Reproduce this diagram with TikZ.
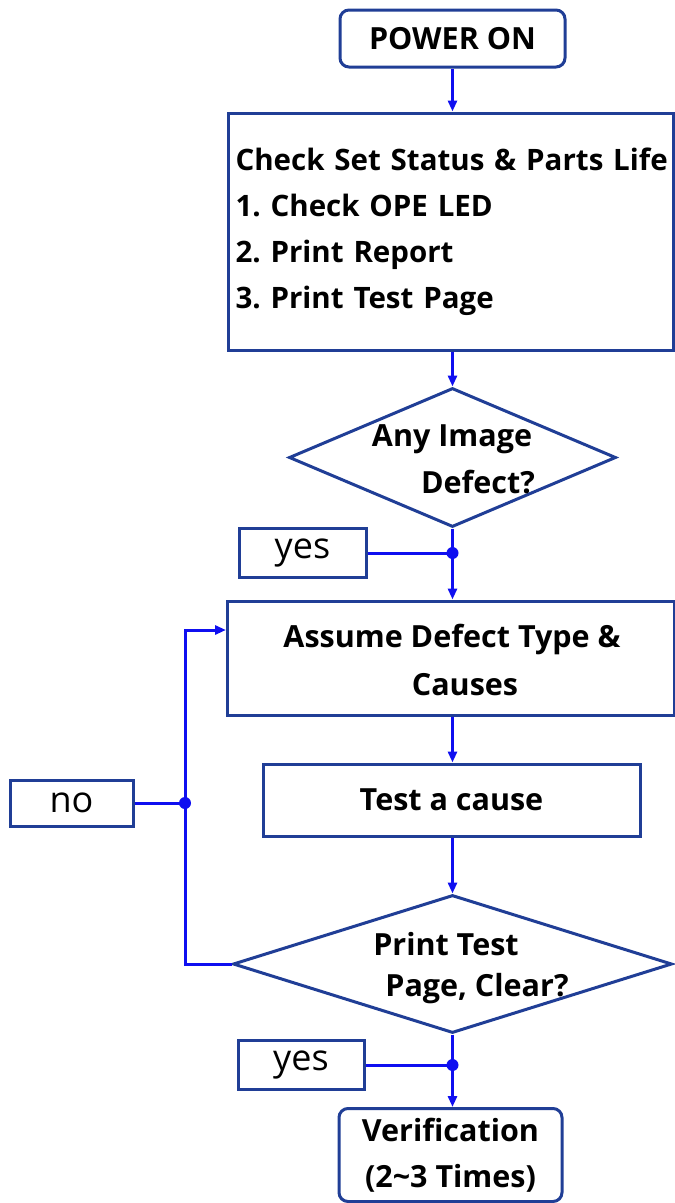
\documentclass[tikz,border=0pt]{standalone}
\usepackage{fontspec}
\setmainfont{Open Sans}
\frenchspacing
\usetikzlibrary{shapes.geometric,arrows.meta,calc}
\definecolor{bordercol}{RGB}{32,62,150}
\definecolor{linecol}{RGB}{15,15,240}
\tikzset{
  x=1pt,y=-1pt,
  boxst/.style={draw=bordercol, line width=3pt, fill=white, inner sep=0pt, font=\fontsize{30.5}{46}\selectfont\bfseries},
  roundst/.style={boxst, rounded corners=9pt},
  diast/.style={draw=bordercol, line width=3pt, diamond, inner sep=0pt},
  labst/.style={draw=bordercol, line width=3pt, inner sep=0pt, font=\fontsize{36}{40}\selectfont},
  txt/.style={inner sep=0pt, font=\fontsize{30.5}{46}\selectfont\bfseries},
  conn/.style={draw=linecol, line width=3pt},
  arr/.style={conn, -{Triangle[length=11pt,width=9pt]}},
  dot/.style={circle, fill=linecol, inner sep=0pt, minimum size=12pt},
}
\begin{document}
\begin{tikzpicture}
\useasboundingbox (0,0) rectangle (675,1203);
\node[roundst, minimum width=225pt, minimum height=57pt] (power) at (452.5,38.5) {POWER ON};
\node[boxst, minimum width=445pt, minimum height=237pt, align=left, text width=430pt, font=\fontsize{29.5}{46}\selectfont\bfseries] (check) at (450.5,231.5)
  {\raisebox{-4pt}{Check Set Status \& Parts Life}\\\raisebox{-4pt}{1. Check OPE LED}\\\raisebox{-4pt}{2. Print Report}\\\raisebox{-4pt}{3. Print Test Page}};
\node[diast, minimum width=327pt, minimum height=139pt] (d1) at (452.5,457.5) {};
\node[txt] (d1a) at (452,439) {Any Image};
\node[txt] (d1b) at (478,482) {Defect?};
\node[labst, minimum width=127pt, minimum height=49pt] (yes1) at (302.5,553) {yes};
\node[boxst, minimum width=447pt, minimum height=114pt, align=center] (a) at (450.5,658) {};
\node[txt] (a1) at (452,639) {Assume Defect Type \&};
\node[txt] (a2) at (465,685) {Causes};
\node[boxst, minimum width=377pt, minimum height=72pt] (t) at (451.5,800) {Test a cause};
\node[diast, minimum width=439pt, minimum height=138pt] (d2) at (452.5,964) {};
\node[txt] (d2a) at (446,944) {Print Test};
\node[txt] (d2b) at (477,989) {Page, Clear?};
\node[labst, minimum width=123pt, minimum height=46pt] (no) at (71.5,803) {no};
\node[labst, minimum width=126pt, minimum height=49pt] (yes2) at (301,1065) {yes};
\node[roundst, minimum width=223pt, minimum height=93pt, align=center] (v) at (450.5,1155) {Verification\\(2\textasciitilde3 Times)};
\node[dot] (j1) at (452.5,553) {};
\node[dot] (j2) at (185,803) {};
\node[dot] (j3) at (452.5,1065) {};
\coordinate (ain) at (226,630);
\draw[arr] (power.south) -- (power.south |- check.north);
\draw[arr] (check.south -| d1.north) -- (d1.north);
\draw[conn] (d1.south) -- (j1.center);
\draw[arr] (j1.center) -- (j1.center |- a.north);
\draw[conn] (yes1.east) -- (j1.center);
\draw[arr] (j1.center |- a.south) -- (j1.center |- t.north);
\draw[arr] (j1.center |- t.south) -- (d2.north);
\draw[conn] (d2.west) -| (j2.center);
\draw[arr] (j2.center) |- (ain);
\draw[conn] (no.east) -- (j2.center);
\draw[conn] (d2.south) -- (j3.center);
\draw[arr] (j3.center) -- (j3.center |- v.north);
\draw[conn] (yes2.east) -- (j3.center);
\end{tikzpicture}
\end{document}
